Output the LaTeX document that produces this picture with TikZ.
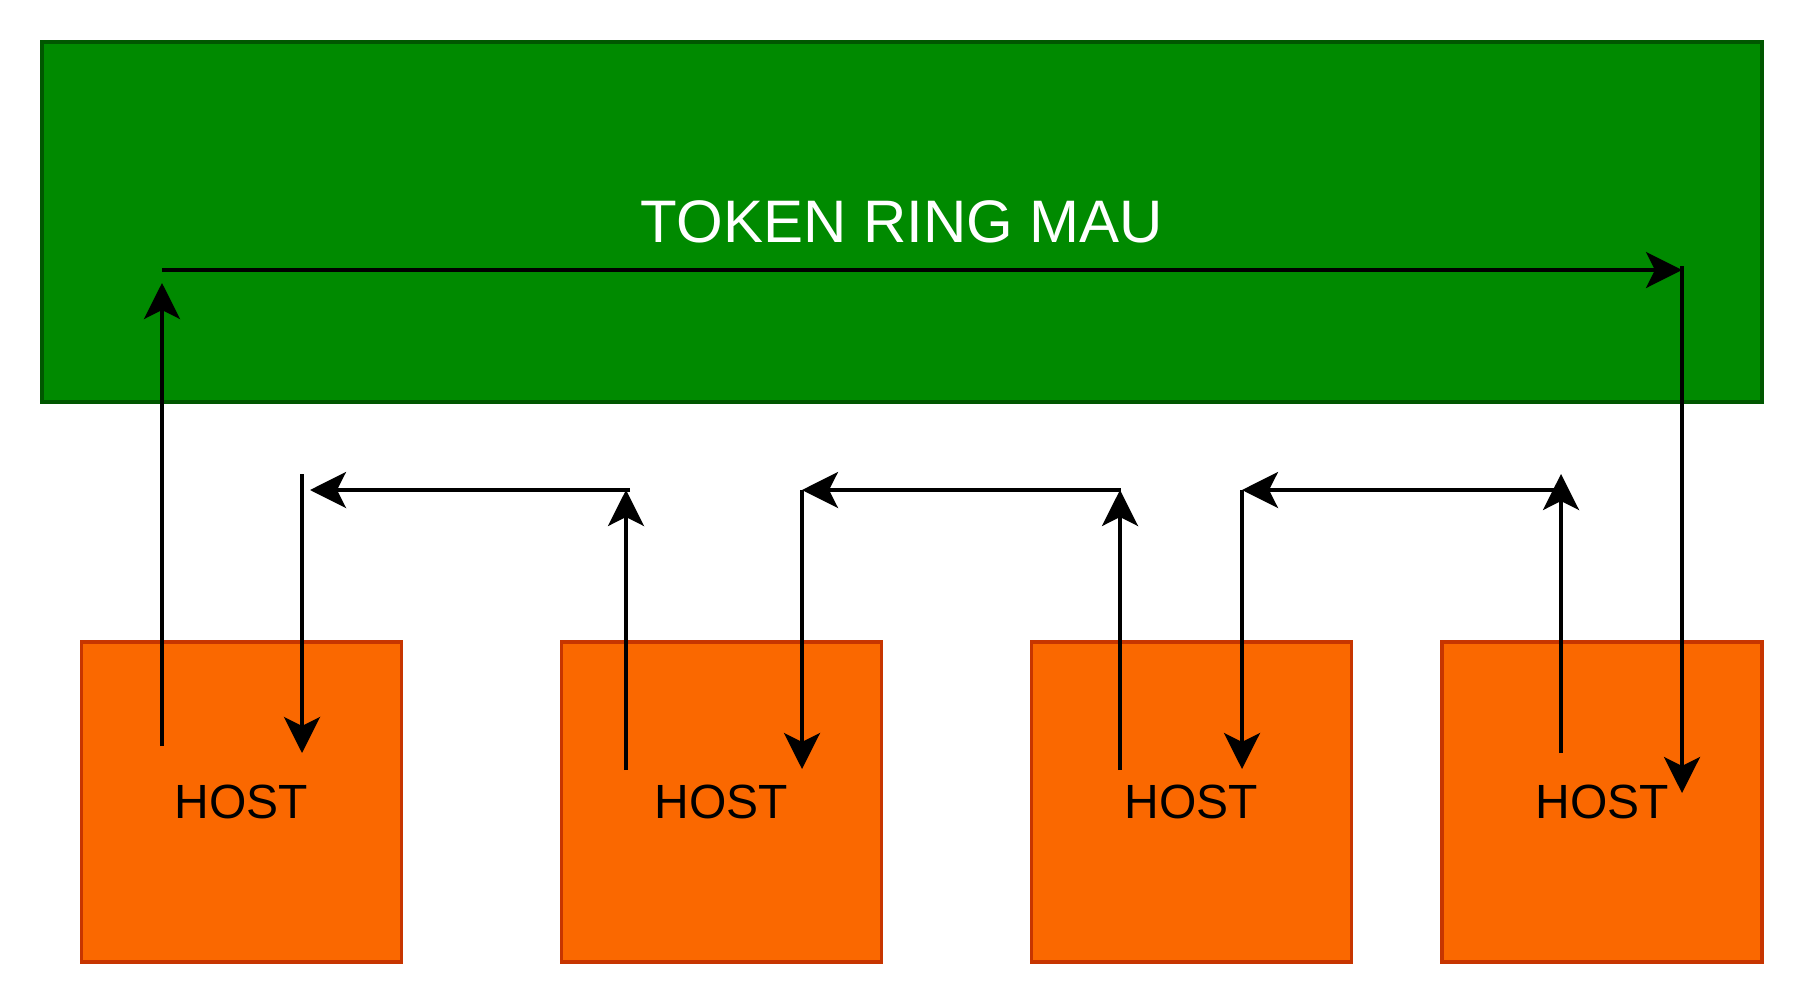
\documentclass[tikz,border=0pt]{standalone}
\usepackage{fontspec}
\setmainfont{Liberation Sans}
\usetikzlibrary{arrows.meta}
\definecolor{maufill}{HTML}{008A00}
\definecolor{mauline}{HTML}{005700}
\definecolor{hostfill}{HTML}{FA6800}
\definecolor{hostline}{HTML}{C73500}
\begin{document}
\begin{tikzpicture}[x=1pt,y=-1pt,
  maubox/.style={draw=mauline, fill=maufill, line width=3.5pt, minimum width=1720pt, minimum height=360pt, inner sep=0pt, text=white, font=\fontsize{60}{70}\selectfont},
  hostbox/.style={draw=hostline, fill=hostfill, line width=3.5pt, minimum width=320pt, minimum height=320pt, inner sep=0pt, text=black, font=\fontsize{48}{56}\selectfont},
  link/.style={line width=3.6pt, -{Stealth[length=36pt,width=36pt,inset=9pt]}}]
\useasboundingbox (0,0) rectangle (1804,1004);
\node[maubox] (mau) at (902,222) {TOKEN RING MAU};
\node[hostbox] (h1) at (241.5,802) {HOST};
\node[hostbox] (h2) at (721.5,802) {HOST};
\node[hostbox] (h3) at (1191.5,802) {HOST};
\node[hostbox] (h4) at (1602,802) {HOST};
% ring coordinates
\coordinate (a1) at (162,746);
\coordinate (a2) at (162,283);
\coordinate (b1) at (162,270);
\coordinate (b2) at (1682,270);
\coordinate (c1) at (1682,266);
\coordinate (c2) at (1682,793);
\coordinate (d1) at (302,474);
\coordinate (d2) at (302,753);
\coordinate (e1) at (630,490);
\coordinate (e2) at (310,490);
\coordinate (f1) at (626,770);
\coordinate (f2) at (626,490);
\coordinate (g1) at (802,490);
\coordinate (g2) at (802,769);
\coordinate (k1) at (1121,490);
\coordinate (k2) at (802,490);
\coordinate (m1) at (1120,770);
\coordinate (m2) at (1120,490);
\coordinate (n1) at (1242,490);
\coordinate (n2) at (1242,769);
\coordinate (p1) at (1561,490);
\coordinate (p2) at (1242,490);
\coordinate (q1) at (1561,753);
\coordinate (q2) at (1561,474);
\draw[link] (a1) -- (a2);
\draw[link] (b1) -- (b2);
\draw[link] (c1) -- (c2);
\draw[link] (d1) -- (d2);
\draw[link] (e1) -- (e2);
\draw[link] (f1) -- (f2);
\draw[link] (g1) -- (g2);
\draw[link] (k1) -- (k2);
\draw[link] (m1) -- (m2);
\draw[link] (n1) -- (n2);
\draw[link] (p1) -- (p2);
\draw[link] (q1) -- (q2);
\end{tikzpicture}
\end{document}
